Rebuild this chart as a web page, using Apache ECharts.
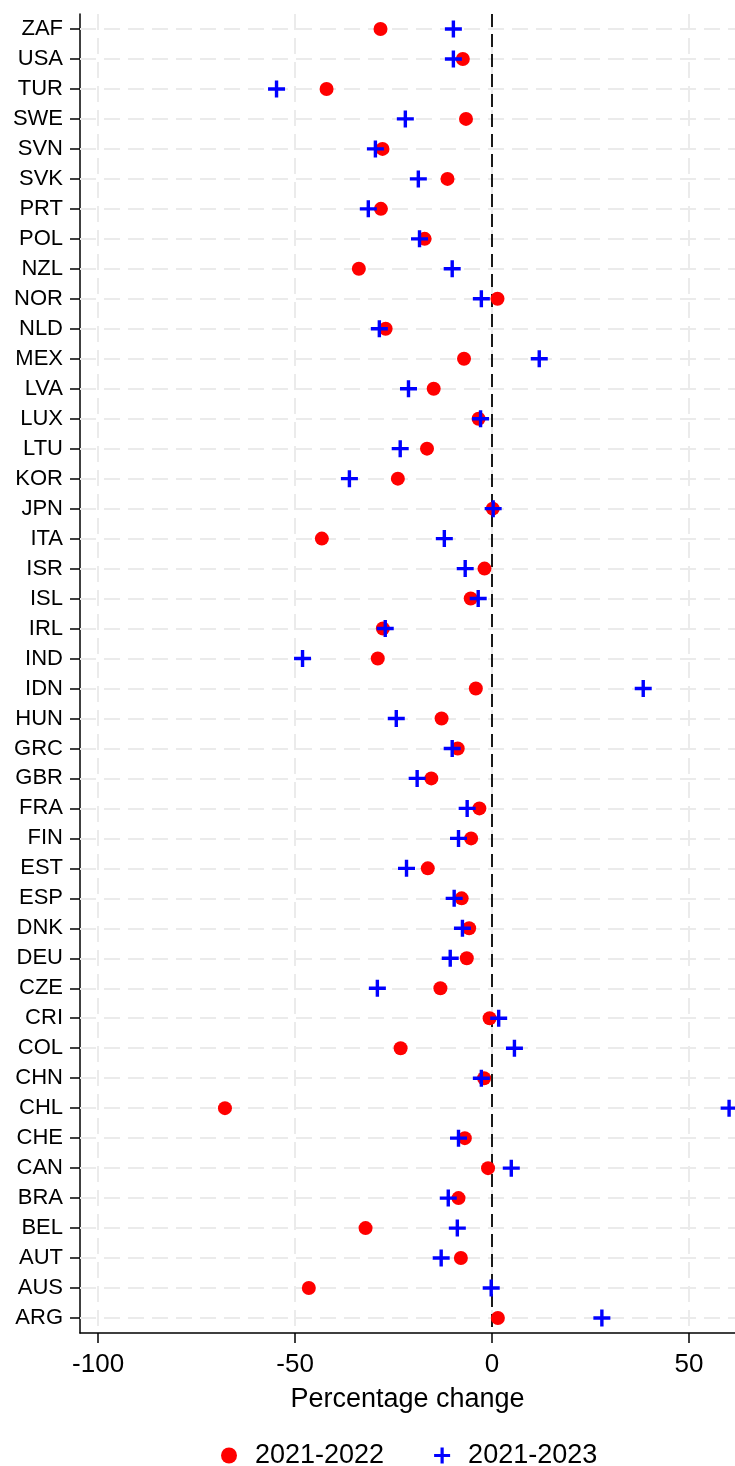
<!DOCTYPE html>
<html>
<head>
<meta charset="utf-8">
<title>Percentage change by country</title>
<script src="https://cdn.jsdelivr.net/npm/echarts@6/dist/echarts.min.js"></script>
<style>
  html, body { margin: 0; padding: 0; background: #ffffff; }
  #chart { width: 735px; height: 1466px; }
</style>
</head>
<body>
<div id="chart"></div>
<script>
// Countries, listed top to bottom
const countries = ['ZAF','USA','TUR','SWE','SVN','SVK','PRT','POL','NZL','NOR','NLD','MEX','LVA','LUX','LTU','KOR','JPN','ITA','ISR','ISL','IRL','IND','IDN','HUN','GRC','GBR','FRA','FIN','EST','ESP','DNK','DEU','CZE','CRI','COL','CHN','CHL','CHE','CAN','BRA','BEL','AUT','AUS','ARG'];

// Percentage change 2021-2022
const change2022 = [-28.3,-7.4,-42.0,-6.6,-27.8,-11.3,-28.2,-17.1,-33.8,1.4,-27.0,-7.1,-14.8,-3.4,-16.5,-23.9,0.2,-43.2,-1.9,-5.4,-27.7,-29.0,-4.1,-12.8,-8.7,-15.4,-3.2,-5.3,-16.3,-7.7,-5.8,-6.4,-13.1,-0.6,-23.2,-2.0,-67.8,-6.9,-1.0,-8.5,-32.1,-7.9,-46.5,1.5];

// Percentage change 2021-2023
const change2023 = [-9.8,-9.8,-54.7,-22.0,-29.6,-18.7,-31.4,-18.4,-10.1,-2.7,-28.6,12.0,-21.2,-2.9,-23.3,-36.2,0.3,-12.1,-6.8,-3.5,-27.1,-48.1,38.4,-24.3,-10.1,-19.0,-6.3,-8.5,-21.7,-9.6,-7.5,-10.6,-29.1,1.7,5.7,-2.7,60.2,-8.5,4.9,-11.1,-8.8,-12.9,-0.2,27.9];

// Horizontal axis ticks and reference line
const xTicks = [-100, -50, 0, 50];
const xMin = -104.6;
const xMax = 61.7;
const zeroLine = 0;

const seriesNames = ['2021-2022', '2021-2023'];

const FONT = '"Liberation Sans", Arial, sans-serif';
const PLUS = 'path://M8,0h4v8h8v4h-8v8h-4v-8h-8v-4h8z';
const gridDash = { color: '#ebebeb', width: 2, type: [16, 8] };

const chart = echarts.init(document.getElementById('chart'), null, { renderer: 'canvas' });

chart.setOption({
  animation: false,
  backgroundColor: '#ffffff',
  textStyle: { fontFamily: FONT, color: '#000' },
  grid: { left: 80, right: 0, top: 14, bottom: 133, containLabel: false },
  xAxis: {
    type: 'value',
    min: xMin,
    max: xMax,
    name: 'Percentage change',
    nameLocation: 'middle',
    nameGap: 53,
    nameTextStyle: { fontSize: 27, color: '#000', fontFamily: FONT },
    axisLine: { show: true, onZero: false, lineStyle: { color: '#000', width: 1.5 } },
    axisTick: { show: true, length: 10, customValues: xTicks, lineStyle: { color: '#000', width: 1.5 } },
    axisLabel: { customValues: xTicks, fontSize: 26, color: '#000', margin: 19, fontFamily: FONT },
    splitLine: { show: false }
  },
  yAxis: {
    type: 'category',
    data: countries,
    inverse: true,
    boundaryGap: true,
    axisLine: { show: true, onZero: false, lineStyle: { color: '#000', width: 1.5 } },
    axisTick: { show: true, alignWithLabel: true, length: 10, lineStyle: { color: '#000', width: 1.5 } },
    axisLabel: { fontSize: 22, color: '#000', margin: 17, fontFamily: FONT },
    splitLine: { show: false }
  },
  legend: {
    left: 216,
    top: 1437,
    itemGap: 50,
    itemWidth: 16,
    itemHeight: 16,
    textStyle: { fontSize: 27, color: '#000', fontFamily: FONT, padding: [0, 0, 0, 13] },
    data: [
      { name: seriesNames[0], icon: 'circle', itemStyle: { color: '#ff0000' } },
      { name: seriesNames[1], icon: PLUS, itemStyle: { color: '#0000ff' } }
    ]
  },
  series: [
    {
      // light dashed grid: one line per country and per x tick
      name: 'grid',
      type: 'scatter',
      data: [],
      z: 1,
      silent: true,
      markLine: {
        z: 1,
        silent: true,
        symbol: ['none', 'none'],
        label: { show: false },
        lineStyle: gridDash,
        emphasis: { disabled: true },
        data: countries.map(c => ({ yAxis: c })).concat(xTicks.map(v => ({ xAxis: v })))
      }
    },
    {
      // dashed reference line at zero
      name: 'zero',
      type: 'scatter',
      data: [],
      z: 2,
      silent: true,
      markLine: {
        z: 2,
        silent: true,
        symbol: ['none', 'none'],
        label: { show: false },
        lineStyle: { color: '#1a1a1a', width: 2, type: [13, 7] },
        emphasis: { disabled: true },
        data: [{ xAxis: zeroLine }]
      }
    },
    {
      name: seriesNames[0],
      type: 'scatter',
      z: 3,
      symbol: 'circle',
      symbolSize: 14,
      itemStyle: { color: '#ff0000', opacity: 1 },
      data: countries.map((c, i) => [change2022[i], c])
    },
    {
      name: seriesNames[1],
      type: 'scatter',
      z: 4,
      symbol: PLUS,
      symbolSize: 17,
      itemStyle: { color: '#0000ff', opacity: 1 },
      clip: false,
      data: countries.map((c, i) => [change2023[i], c])
    }
  ]
});
</script>
</body>
</html>
